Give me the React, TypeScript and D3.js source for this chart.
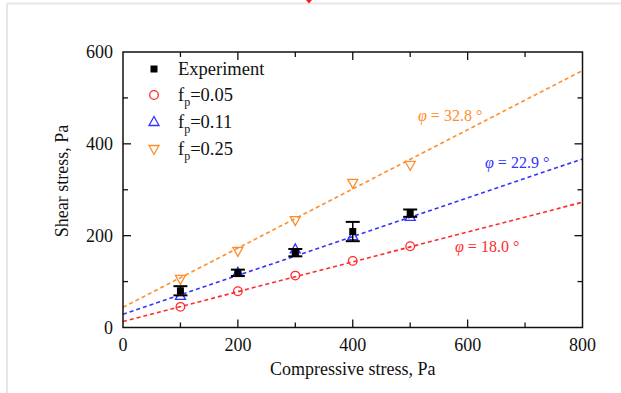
import React from "react";
import * as d3 from "d3";

const xTicks = [0, 200, 400, 600, 800];
const yTicks = [0, 200, 400, 600];
const stress = [100, 200, 300, 400, 500];
const expShear = [80, 119, 163, 209, 249];
const expErr = [10, 7, 8, 21, 8];
const fp005 = [45, 79, 113, 145, 177];
const fp011 = [69, 119, 170, 199, 241];
const fp025 = [106, 167, 234, 315, 354];
const fitIntercepts = [13, 29, 44];
const fitAngles = [18.0, 22.9, 32.8];
const seriesNames = ["0.05", "0.11", "0.25"];
const seriesColors = ["#ff2a2a", "#3333ff", "#ff8c2a"];
const angleLabelPos = [
  [455, 247],
  [485, 163],
  [418, 116],
];

const W = 621;
const H = 393;
const font = "Liberation Serif, Times New Roman, serif";

export default function App() {
  const x = d3.scaleLinear().domain([0, 800]).range([123, 582.5]);
  const y = d3.scaleLinear().domain([0, 600]).range([327.5, 52]);
  const [x0, x1] = x.range();
  const [y0, y1] = y.range();

  const minorX = d3.range(100, 800, 200);
  const minorY = d3.range(100, 600, 200);

  const seriesData = [fp005, fp011, fp025];

  const circle = (cx: number, cy: number, c: string, k: string) => (
    <circle key={k} cx={cx} cy={cy} r={4.3} fill="none" stroke={c} strokeWidth={1.3} />
  );
  const triUp = (cx: number, cy: number, c: string, k: string) => (
    <path
      key={k}
      d={`M${cx},${cy - 5.5}L${cx + 5},${cy + 3.5}L${cx - 5},${cy + 3.5}Z`}
      fill="none"
      stroke={c}
      strokeWidth={1.3}
    />
  );
  const triDown = (cx: number, cy: number, c: string, k: string) => (
    <path
      key={k}
      d={`M${cx},${cy + 5.5}L${cx + 5},${cy - 3.5}L${cx - 5},${cy - 3.5}Z`}
      fill="none"
      stroke={c}
      strokeWidth={1.3}
    />
  );
  const markers = [circle, triUp, triDown];

  const legendRows = [69, 95, 122, 149];
  const ink = "#111";

  return (
    <svg
      width={W}
      height={H}
      style={{ position: "absolute", left: 0, top: 0, background: "#fff", fontFamily: font }}
    >
      {/* page border */}
      <line x1={7} y1={3.5} x2={W} y2={3.5} stroke="#e6e6e6" strokeWidth={2} />
      <line x1={7} y1={3.5} x2={7} y2={H} stroke="#e6e6e6" strokeWidth={2} />
      <path d="M306,0L312,0L309,3.5Z" fill="#ff1a1a" />

      {/* fit lines */}
      {fitIntercepts.map((b, i) => {
        const slope = Math.tan((fitAngles[i] * Math.PI) / 180);
        const pts: [number, number][] = [
          [0, b],
          [800, b + slope * 800],
        ];
        const d = d3
          .line<[number, number]>()
          .x((p) => x(p[0]))
          .y((p) => y(p[1]))(pts);
        return (
          <path
            key={"fit" + i}
            d={d || ""}
            fill="none"
            stroke={seriesColors[i]}
            strokeWidth={1.6}
            strokeDasharray="4,3"
          />
        );
      })}

      {/* simulation markers */}
      {seriesData.map((arr, si) =>
        arr.map((v, j) => markers[si](x(stress[j]), y(v), seriesColors[si], `m${si}-${j}`))
      )}

      {/* experiment */}
      {expShear.map((v, j) => {
        const cx = x(stress[j]);
        const top = y(v + expErr[j]);
        const bot = y(v - expErr[j]);
        return (
          <g key={"e" + j} stroke="#000">
            <line x1={cx} x2={cx} y1={top} y2={bot} strokeWidth={1.5} />
            <line x1={cx - 7} x2={cx + 7} y1={top} y2={top} strokeWidth={2} />
            <line x1={cx - 7} x2={cx + 7} y1={bot} y2={bot} strokeWidth={2} />
            <rect x={cx - 3.5} y={y(v) - 3.5} width={7} height={7} fill="#000" stroke="none" />
          </g>
        );
      })}

      {/* angle labels */}
      {fitAngles.map((a, i) => (
        <text
          key={"ang" + i}
          x={angleLabelPos[i][0]}
          y={angleLabelPos[i][1] + 5}
          fontSize={16}
          fill={seriesColors[i]}
        >
          <tspan fontStyle="italic">φ</tspan>
          <tspan>{" = " + a.toFixed(1) + " °"}</tspan>
        </text>
      ))}

      {/* frame */}
      <rect x={x0} y={y1} width={x1 - x0} height={y0 - y1} fill="none" stroke={ink} strokeWidth={1.5} />

      {/* ticks */}
      <g stroke={ink} strokeWidth={1.3}>
        {xTicks.slice(1, -1).map((t) => (
          <g key={"xt" + t}>
            <line x1={x(t)} x2={x(t)} y1={y0} y2={y0 - 8} />
            <line x1={x(t)} x2={x(t)} y1={y1} y2={y1 + 8} />
          </g>
        ))}
        {minorX.map((t) => (
          <g key={"xm" + t}>
            <line x1={x(t)} x2={x(t)} y1={y0} y2={y0 - 5} />
            <line x1={x(t)} x2={x(t)} y1={y1} y2={y1 + 5} />
          </g>
        ))}
        {yTicks.slice(1, -1).map((t) => (
          <g key={"yt" + t}>
            <line x1={x0} x2={x0 + 8} y1={y(t)} y2={y(t)} />
            <line x1={x1} x2={x1 - 8} y1={y(t)} y2={y(t)} />
          </g>
        ))}
        {minorY.map((t) => (
          <g key={"ym" + t}>
            <line x1={x0} x2={x0 + 5} y1={y(t)} y2={y(t)} />
            <line x1={x1} x2={x1 - 5} y1={y(t)} y2={y(t)} />
          </g>
        ))}
      </g>

      {/* tick labels */}
      {xTicks.map((t) => (
        <text key={"xl" + t} x={x(t)} y={351} textAnchor="middle" fontSize={18} fill={ink}>
          {t}
        </text>
      ))}
      {yTicks.map((t) => (
        <text key={"yl" + t} x={113} y={y(t) + 6} textAnchor="end" fontSize={18} fill={ink}>
          {t}
        </text>
      ))}

      {/* axis titles */}
      <text x={(x0 + x1) / 2} y={375} textAnchor="middle" fontSize={18} fill={ink}>
        Compressive stress, Pa
      </text>
      <text
        transform={`translate(68,181) rotate(-90)`}
        textAnchor="middle"
        fontSize={18}
        fill={ink}
      >
        Shear stress, Pa
      </text>

      {/* legend */}
      <rect x={150.5} y={legendRows[0] - 3.5} width={7} height={7} fill="#000" />
      <text x={178} y={legendRows[0] + 6} fontSize={18.5} fill={ink}>
        Experiment
      </text>
      {seriesNames.map((n, i) => (
        <g key={"lg" + i}>
          {markers[i](154, legendRows[i + 1], seriesColors[i], "lm" + i)}
          <text x={178} y={legendRows[i + 1] + 6} fontSize={18.5} fill={ink}>
            <tspan>f</tspan>
            <tspan fontSize={12} dy={5}>
              p
            </tspan>
            <tspan dy={-5}>{"=" + n}</tspan>
          </text>
        </g>
      ))}
    </svg>
  );
}
